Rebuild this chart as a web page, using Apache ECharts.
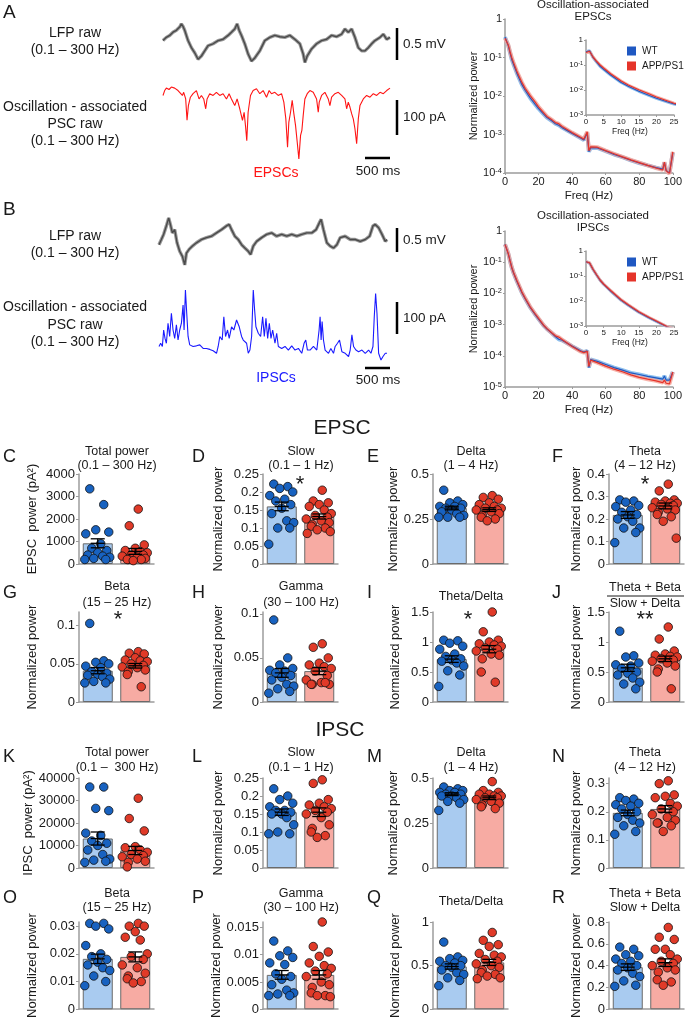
<!DOCTYPE html>
<html>
<head>
<meta charset="utf-8">
<script src="https://cdn.jsdelivr.net/npm/echarts@6.0.0/dist/echarts.min.js"></script>
<style>
html, body { margin: 0; padding: 0; background: #fff; }
#chart { width: 685px; height: 1020px; }
</style>
</head>
<body>
<div id="chart"></div>
<script>
const FONT = '"Liberation Sans", Arial, sans-serif';
const INK = '#1a1a1a';

/* ---------- A / B : raw traces (time in ms) ---------- */
const lfpA_t = [0,67,133,200,267,333,367,400,433,500,567,633,700,767,833,900,1000,1100,1200,1300,1367,1433,1480,1520,1567,1633,1700,1767,1833,1933,2033,2133,2233,2333,2433,2533,2633,2733,2800,2833,2880,2967,3067,3167,3267,3367,3467,3567,3633,3700,3767,3833,3900,3967,4033,4100,4167,4233,4333,4400,4467,4533];
const lfpA_v = [0.16,0.21,0.24,0.29,0.32,0.37,0.42,0.38,0.32,0.16,0.05,-0.03,-0.13,-0.08,0,0.08,0.11,0.16,0.18,0.24,0.29,0.34,0.42,0.32,0.24,0.11,-0.05,-0.16,-0.11,0,0.16,0.21,0.24,0.22,0.21,0.24,0.18,0.11,-0.05,-0.18,-0.08,0.03,0.11,0.16,0.18,0.24,0.22,0.26,0.34,0.29,0.34,0.21,0.05,0,0,0.05,0.11,0.16,0.21,0.26,0.18,0.21];
const epscTrace = [[0,-19],[33,-5],[67,2],[120,-2],[167,5],[233,2],[300,-5],[333,0],[387,-19],[413,-10],[453,-29],[480,-90],[507,-48],[547,-24],[600,-14],[667,-5],[720,-29],[767,-19],[813,-29],[853,-57],[880,-29],[933,-14],[1000,-19],[1067,-10],[1133,-19],[1200,-14],[1267,-29],[1320,-14],[1367,-29],[1433,-48],[1480,-29],[1533,-57],[1587,-90],[1620,-67],[1647,-105],[1673,-148],[1700,-67],[1747,-19],[1800,-5],[1867,0],[1933,-14],[2000,-5],[2067,-24],[2120,-5],[2167,-14],[2233,-10],[2300,-19],[2367,-14],[2413,-38],[2453,-86],[2487,-167],[2513,-95],[2547,-67],[2580,-33],[2613,-71],[2647,-105],[2680,-152],[2713,-200],[2747,-133],[2773,-119],[2800,-76],[2833,-29],[2880,-14],[2933,-5],[3000,-10],[3067,-29],[3100,-67],[3120,-38],[3167,-19],[3233,-10],[3300,-29],[3333,-48],[3367,-24],[3433,-14],[3500,-10],[3567,-19],[3633,-29],[3667,-57],[3700,-38],[3733,-52],[3767,-71],[3800,-86],[3833,-114],[3867,-157],[3900,-86],[3933,-48],[4000,-29],[4067,-19],[4133,-24],[4200,-14],[4267,-19],[4333,-10],[4400,-14],[4467,-5],[4533,2]];
const lfpB_t = [0,47,93,147,193,227,267,313,360,413,467,513,547,600,667,747,847,947,1047,1147,1247,1347,1400,1447,1513,1580,1647,1713,1780,1827,1880,1947,2047,2147,2247,2347,2447,2547,2647,2747,2847,2947,3047,3133,3200,3233,3280,3347,3413,3480,3547,3613,3713,3813,3913,4013,4113,4200,4267,4313,4380,4447,4513,4547];
const lfpB_v = [-0.11,0,0.11,0.29,0.46,0.32,0.14,0.21,-0.07,-0.25,-0.36,-0.54,-0.29,-0.21,-0.14,-0.07,0,0.04,0.07,0.14,0.21,0.29,0.32,0.21,0.07,0,-0.11,-0.18,-0.25,-0.32,-0.14,-0.04,0.04,0.11,0.14,0.07,0.11,0.07,0.11,0.07,0.11,0.14,0.14,0.21,0.36,0.43,0.21,-0.07,-0.14,-0.18,-0.11,0.04,0.07,0,0,-0.04,0,0.07,0.29,0.32,0.25,0.11,-0.04,0];
const ipscB_t = [0,33,67,93,120,147,180,213,247,280,313,347,380,413,447,480,500,527,553,580,613,680,747,813,880,947,1013,1080,1147,1180,1213,1260,1293,1327,1367,1400,1447,1493,1547,1600,1647,1680,1747,1780,1813,1847,1880,1907,1933,1980,2027,2067,2100,2133,2167,2200,2233,2267,2313,2347,2380,2447,2513,2580,2647,2713,2780,2847,2893,2927,2960,3013,3080,3147,3193,3213,3233,3253,3280,3313,3380,3427,3480,3513,3560,3600,3647,3713,3780,3813,3847,3880,3927,3980,4047,4113,4180,4227,4267,4293,4320,4347,4380,4427,4467,4513,4547];
const ipscB_v = [21,31,21,72,46,31,93,52,124,72,46,88,41,72,93,149,72,196,124,52,26,21,23,26,15,15,12,8,0,21,52,41,113,52,72,46,82,72,103,82,52,41,31,0,10,52,196,134,82,62,52,113,52,108,46,93,46,72,31,62,21,15,21,10,23,10,15,0,31,41,10,10,21,10,72,113,41,98,41,10,0,15,0,21,31,41,5,0,-10,10,57,21,10,5,10,0,10,0,21,113,185,124,0,-21,-10,0,0];

/* ---------- power spectra ---------- */
const freq = [0,1,2,3,4,5,7,10,12,15,18,20,23,25,28,30,32,33,34,35,40,45,47,48,49,50,51,52,55,60,65,70,75,80,85,90,94,95,96,98,99,100];
const specEpscWT = [0.339,0.372,0.200,0.132,0.0891,0.0676,0.0398,0.0200,0.0141,0.00891,0.00603,0.00468,0.00339,0.00275,0.00224,0.00191,0.00174,0.00182,0.00151,0.00138,0.00107,0.000813,0.000724,0.000676,0.00110,0.000355,0.000447,0.000501,0.000447,0.000372,0.000302,0.000257,0.000214,0.000182,0.000158,0.000138,0.000126,0.000186,0.000117,0.000100,0.000105,0.000339];
const specEpscAPP = [0.316,0.355,0.209,0.141,0.100,0.0759,0.0447,0.0229,0.0158,0.0102,0.00692,0.00525,0.00372,0.00295,0.00240,0.00204,0.00191,0.00200,0.00162,0.00145,0.00112,0.000851,0.000759,0.000724,0.00117,0.000380,0.000479,0.000525,0.000468,0.000380,0.000316,0.000263,0.000219,0.000186,0.000158,0.000135,0.000120,0.000191,0.000115,0.0000955,0.000105,0.000355];
const specIpscWT = [0.372,0.331,0.182,0.110,0.0676,0.0468,0.0251,0.0107,0.00676,0.00355,0.00209,0.00151,0.000933,0.000724,0.000525,0.000417,0.000339,0.000355,0.000316,0.000295,0.000204,0.000145,0.000132,0.000126,0.000145,0.0000417,0.0000759,0.0000759,0.0000661,0.0000525,0.0000417,0.0000347,0.0000282,0.0000251,0.0000219,0.0000195,0.0000178,0.0000224,0.0000166,0.0000166,0.0000178,0.0000302];
const specIpscAPP = [0.372,0.339,0.186,0.112,0.0692,0.0479,0.0263,0.0112,0.00708,0.00372,0.00219,0.00158,0.000955,0.000741,0.000537,0.000437,0.000398,0.000417,0.000331,0.000295,0.000200,0.000138,0.000126,0.000120,0.000138,0.0000457,0.0000724,0.0000724,0.0000603,0.0000468,0.0000372,0.0000309,0.0000245,0.0000204,0.0000178,0.0000158,0.0000138,0.0000166,0.0000132,0.0000126,0.0000141,0.0000302];

/* ---------- band power, EPSC ---------- */
const groups = ['WT', 'APP/PS1'];
const epscTotalWT = [3340,2640,1520,1420,1340,900,700,600,500,400,350,300,250,200,200];
const epscTotalAPP = [2440,1700,850,700,600,550,500,400,400,350,300,250,200,200,200,150];
const epscTotalMean = [920, 560], epscTotalSem = [200, 130];
const epscSlowWT = [0.222,0.215,0.21,0.2,0.19,0.18,0.175,0.165,0.155,0.14,0.12,0.115,0.1,0.1,0.055];
const epscSlowAPP = [0.205,0.175,0.17,0.165,0.16,0.15,0.14,0.135,0.13,0.125,0.12,0.115,0.11,0.105,0.1,0.095,0.09,0.085];
const epscSlowMean = [0.16, 0.132], epscSlowSem = [0.012, 0.007];
const epscDeltaWT = [0.41,0.35,0.34,0.33,0.32,0.32,0.31,0.31,0.30,0.29,0.28,0.27,0.26,0.26,0.26];
const epscDeltaAPP = [0.38,0.37,0.36,0.34,0.33,0.32,0.31,0.31,0.30,0.30,0.29,0.28,0.27,0.26,0.25,0.24];
const epscDeltaMean = [0.311, 0.302], epscDeltaSem = [0.01, 0.01];
const epscThetaWT = [0.285,0.28,0.275,0.26,0.255,0.24,0.23,0.22,0.21,0.2,0.19,0.16,0.16,0.14,0.095];
const epscThetaAPP = [0.355,0.325,0.285,0.28,0.275,0.27,0.27,0.265,0.26,0.25,0.245,0.24,0.23,0.22,0.21,0.19,0.115];
const epscThetaMean = [0.218, 0.258], epscThetaSem = [0.015, 0.013];
const epscBetaWT = [0.103,0.054,0.052,0.05,0.047,0.045,0.04,0.038,0.036,0.035,0.033,0.03,0.027,0.025,0.025];
const epscBetaAPP = [0.066,0.064,0.063,0.058,0.055,0.054,0.053,0.05,0.048,0.046,0.045,0.042,0.04,0.036,0.02];
const epscBetaMean = [0.041, 0.0475], epscBetaSem = [0.004, 0.003];
const epscGammaWT = [0.093,0.05,0.042,0.038,0.036,0.035,0.033,0.03,0.028,0.025,0.02,0.018,0.015,0.012,0.01];
const epscGammaAPP = [0.066,0.062,0.05,0.044,0.042,0.04,0.038,0.035,0.03,0.025,0.022,0.02,0.02,0.02,0.022];
const epscGammaMean = [0.033, 0.035], epscGammaSem = [0.005, 0.004];
const epscTDWT = [1.03,1.02,0.98,0.93,0.88,0.8,0.76,0.72,0.7,0.68,0.65,0.6,0.52,0.45,0.26];
const epscTDAPP = [1.5,1.17,1.03,1.0,0.97,0.95,0.93,0.9,0.88,0.85,0.8,0.78,0.72,0.5,0.33];
const epscTDMean = [0.715, 0.88], epscTDSem = [0.055, 0.06];
const epscRatioWT = [1.18,0.77,0.75,0.65,0.62,0.6,0.56,0.5,0.48,0.45,0.4,0.33,0.3,0.22];
const epscRatioAPP = [1.25,1.05,0.85,0.8,0.78,0.76,0.75,0.72,0.7,0.68,0.65,0.6,0.55,0.5,0.22];
const epscRatioMean = [0.57, 0.72], epscRatioSem = [0.06, 0.045];

/* ---------- band power, IPSC ---------- */
const ipscTotalWT = [36000,36000,26500,25500,15500,14500,12000,11000,10000,8000,6000,4000,3500,3000,2500];
const ipscTotalAPP = [31000,22000,16500,9500,9000,8000,7000,6000,5500,5000,4000,3000,2500,500];
const ipscTotalMean = [13100, 7800], ipscTotalSem = [2900, 1800];
const ipscSlowWT = [0.22,0.2,0.19,0.18,0.17,0.16,0.16,0.155,0.15,0.15,0.14,0.12,0.1,0.095,0.095];
const ipscSlowAPP = [0.245,0.235,0.19,0.18,0.175,0.17,0.165,0.16,0.155,0.15,0.14,0.12,0.11,0.1,0.09,0.085];
const ipscSlowMean = [0.155, 0.155], ipscSlowSem = [0.009, 0.012];
const ipscDeltaWT = [0.45,0.44,0.43,0.43,0.42,0.42,0.41,0.41,0.40,0.40,0.39,0.38,0.37,0.36,0.32];
const ipscDeltaAPP = [0.48,0.43,0.42,0.41,0.41,0.40,0.40,0.39,0.39,0.38,0.37,0.36,0.35,0.34,0.33];
const ipscDeltaMean = [0.41, 0.39], ipscDeltaSem = [0.008, 0.01];
const ipscThetaWT = [0.25,0.245,0.24,0.23,0.225,0.22,0.21,0.2,0.19,0.18,0.17,0.16,0.15,0.13,0.12];
const ipscThetaAPP = [0.31,0.3,0.26,0.255,0.25,0.23,0.22,0.21,0.2,0.19,0.18,0.17,0.16,0.16,0.15,0.13];
const ipscThetaMean = [0.196, 0.21], ipscThetaSem = [0.01, 0.012];
const ipscBetaWT = [0.031,0.031,0.03,0.029,0.023,0.02,0.019,0.018,0.017,0.016,0.015,0.014,0.012,0.01,0.0085];
const ipscBetaAPP = [0.031,0.030,0.030,0.028,0.026,0.025,0.02,0.019,0.018,0.016,0.015,0.013,0.012,0.011,0.01,0.0095];
const ipscBetaMean = [0.0182, 0.0189], ipscBetaSem = [0.0017, 0.0018];
const ipscGammaWT = [0.0125,0.0107,0.0098,0.0095,0.0085,0.0082,0.0065,0.006,0.0055,0.0045,0.0035,0.003,0.0028,0.0025,0.0025];
const ipscGammaAPP = [0.016,0.0115,0.0105,0.0097,0.0085,0.008,0.0075,0.007,0.0065,0.006,0.005,0.0045,0.004,0.003,0.0025,0.0025,0.0023];
const ipscGammaMean = [0.0063, 0.0063], ipscGammaSem = [0.0008, 0.0008];
const ipscTDWT = [0.77,0.6,0.58,0.56,0.55,0.53,0.5,0.5,0.48,0.45,0.42,0.4,0.36,0.33,0.27];
const ipscTDAPP = [0.88,0.79,0.74,0.72,0.64,0.62,0.6,0.57,0.55,0.52,0.5,0.48,0.45,0.42,0.4,0.38,0.36,0.35];
const ipscTDMean = [0.49, 0.537], ipscTDSem = [0.03, 0.035];
const ipscRatioWT = [0.57,0.55,0.5,0.49,0.46,0.44,0.42,0.4,0.38,0.36,0.33,0.3,0.26,0.22,0.21];
const ipscRatioAPP = [0.75,0.66,0.64,0.55,0.55,0.5,0.46,0.44,0.42,0.4,0.38,0.36,0.34,0.27,0.25,0.22];
const ipscRatioMean = [0.386, 0.427], ipscRatioSem = [0.03, 0.035];

/* dot spread inside a bar, px */
const jitter = [-8, 6, -2, 11, -12, 3, -6, 9, 0, -10, 5, 12, -4, 8, -13, 2, 10, -7];

const grid = [], xAxis = [], yAxis = [], series = [], graphic = [], legend = [];

function zip(a, b) {
  const out = [];
  for (let i = 0; i < Math.min(a.length, b.length); i++) out.push([a[i], b[i]]);
  return out;
}
function text(x, y, str, size, opt) {
  graphic.push({ type: 'text', x: x, y: y, silent: true, z: 10,
    style: Object.assign({ text: str, fill: INK, font: size + 'px ' + FONT,
      textAlign: 'center', textVerticalAlign: 'middle', align: 'center', verticalAlign: 'middle' }, opt || {}) });
}
function line(x1, y1, x2, y2, w, c) {
  graphic.push({ type: 'line', silent: true, z: 10, shape: { x1: x1, y1: y1, x2: x2, y2: y2 },
    style: { stroke: c || '#000', lineWidth: w } });
}

/* raw traces */
function trace(box, data, color, width, yr, xmax, under) {
  const gi = grid.length;
  grid.push({ left: box[0], top: box[1], width: box[2], height: box[3] });
  xAxis.push({ gridIndex: gi, type: 'value', min: 0, max: xmax, show: false });
  yAxis.push({ gridIndex: gi, type: 'value', min: yr[0], max: yr[1], show: false });
  if (under) series.push({ type: 'line', xAxisIndex: gi, yAxisIndex: gi, data: data, showSymbol: false,
    silent: true, lineStyle: { color: under, width: width + 2 } });
  series.push({ type: 'line', xAxisIndex: gi, yAxisIndex: gi, data: data, showSymbol: false,
    silent: true, lineStyle: { color: color, width: width } });
}
trace([163, 20, 227, 45], zip(lfpA_t, lfpA_v), '#4a4a4a', 1.4, [-0.22, 0.48], 4533, '#9a9a9a');
trace([163, 86, 227, 76], epscTrace, '#ff1414', 1.1, [-209, 8], 4533);
trace([159, 216, 228, 51], zip(lfpB_t, lfpB_v), '#4a4a4a', 1.4, [-0.585, 0.5], 4547, '#9a9a9a');
trace([159, 288, 228, 74], zip(ipscB_t, ipscB_v), '#1a1aff', 1.1, [-27, 202], 4547);

/* spectra */
const axLine = { show: true, lineStyle: { color: '#9c9c9c', width: 1.5 } };
function logLabel(v) {
  if (v >= 0.99) return '1';
  return '10{s|' + Math.round(Math.log10(v)) + '}';
}
function specAxes(box, xmax, xint, ymin, fs, names) {
  const gi = grid.length;
  grid.push({ left: box[0], top: box[1], width: box[2], height: box[3] });
  xAxis.push({ gridIndex: gi, type: 'value', min: 0, max: xmax, interval: xint,
    name: 'Freq (Hz)', nameLocation: 'middle', nameGap: names.xg,
    nameTextStyle: { fontSize: fs + 0.5, color: INK, fontFamily: FONT },
    axisLine: axLine, axisTick: { length: 2, lineStyle: { color: '#9c9c9c' } },
    axisLabel: { fontSize: fs, color: INK, fontFamily: FONT, margin: 3 }, splitLine: { show: false } });
  yAxis.push({ gridIndex: gi, type: 'log', logBase: 10, min: ymin, max: 1,
    name: names.y || '', nameLocation: 'middle', nameGap: names.yg,
    nameTextStyle: { fontSize: fs, color: INK, fontFamily: FONT },
    axisLine: axLine, axisTick: { length: 2, lineStyle: { color: '#9c9c9c' } },
    axisLabel: { fontSize: fs, color: INK, fontFamily: FONT, margin: 3, formatter: logLabel,
      rich: { s: { fontSize: fs * 0.68, verticalAlign: 'top', color: INK, fontFamily: FONT } } },
    splitLine: { show: false } });
  return gi;
}
function curves(gi, wt, app, bw) {
  const base = { type: 'line', xAxisIndex: gi, yAxisIndex: gi, showSymbol: false, silent: true };
  series.push(Object.assign({ name: 'WT band', data: zip(freq, wt), lineStyle: { color: '#8cc0ef', width: bw } }, base));
  series.push(Object.assign({ name: 'APP band', data: zip(freq, app), lineStyle: { color: '#f6a095', width: bw, opacity: 0.8 } }, base));
  series.push(Object.assign({ name: 'WT', data: zip(freq, wt), itemStyle: { color: '#1f58c2' }, lineStyle: { color: '#1f58c2', width: 1.2 } }, base));
  series.push(Object.assign({ name: 'APP/PS1', data: zip(freq, app), itemStyle: { color: '#e5342a' }, lineStyle: { color: '#e5342a', width: 1.2 } }, base));
}
function spectrum(top, h, ymin, wt, app, insetTop, title) {
  const g1 = specAxes([505, top, 171, h], 100, 20, ymin, 11, { xg: 17, y: 'Normalized power', yg: 22 });
  curves(g1, wt, app, 4);
  const g2 = specAxes([586, insetTop, 88, 75], 25, 5, 0.001, 8, { xg: 10 });
  curves(g2, wt, app, 3);
  legend.push({ left: 622, top: insetTop + 1, orient: 'vertical', icon: 'rect', itemWidth: 9, itemHeight: 9,
    itemGap: 5, selectedMode: false, data: ['WT', 'APP/PS1'],
    textStyle: { fontSize: 10, color: INK, fontFamily: FONT, padding: [0, 0, 0, 1] } });
  text(593, title[0], 'Oscillation-associated', 11.5);
  text(593, title[0] + 12, title[1], 11.5);
}
spectrum(19, 154, 0.0001, specEpscWT, specEpscAPP, 40, [5, 'EPSCs']);
spectrum(231, 156, 0.00001, specIpscWT, specIpscAPP, 251, [216, 'IPSCs']);

/* trace labels and scale bars */
[[0, 'A', 'EPSCs', '#ff1414'], [1, 'B', 'IPSCs', '#1a1aff']].forEach(function (r) {
  const dy = r[0] ? 203 : 0;
  text(3, 13 + dy - (r[0] ? 6 : 0), r[1], 19, { textAlign: 'left', align: 'left' });
  text(75, 33 + dy, 'LFP raw', 14);
  text(75, 50 + dy, '(0.1 – 300 Hz)', 14);
  text(75, 107 + dy - (r[0] ? 3 : 0), 'Oscillation - associated', 14);
  text(75, 124 + dy - (r[0] ? 2 : 0), 'PSC raw', 14);
  text(75, 141 + dy - (r[0] ? 2 : 0), '(0.1 – 300 Hz)', 14);
  text(276, r[0] ? 378 : 173, r[2], 14, { fill: r[3] });
});
line(397, 28, 397, 60, 2.5); text(403, 44, '0.5 mV', 13.5, { textAlign: 'left', align: 'left' });
line(397, 100, 397, 135, 2.5); text(403, 117, '100 pA', 13.5, { textAlign: 'left', align: 'left' });
line(365, 158, 390, 158, 2.5); text(378, 171, '500 ms', 13.5);
line(397, 228, 397, 252, 2.5); text(403, 240, '0.5 mV', 13.5, { textAlign: 'left', align: 'left' });
line(397, 302, 397, 334, 2.5); text(403, 318, '100 pA', 13.5, { textAlign: 'left', align: 'left' });
line(365, 368, 390, 368, 2.5); text(378, 380, '500 ms', 13.5);

/* bar panels */
const COLS = [79, 263, 433, 609];
const ROWS = [474, 612, 778, 922];
const ROWH = [90, 90, 90, 88];
const LETTER_X = [3, 192, 367, 552];
const LETTER_Y = [457, 593, 757, 898];
const TITLE_Y = [[452, 466], [587, 603], [753, 768], [894, 908]];
const NAME_GAP = [40, 38, 31, 25];

const panels = [
  { id: 'C', c: 0, r: 0, title: ['Total power', '(0.1 – 300 Hz)'], wt: epscTotalWT, app: epscTotalAPP, mean: epscTotalMean, sem: epscTotalSem, max: 4000, ticks: [0, 1000, 2000, 3000, 4000], yname: 'EPSC  power (pA²)' },
  { id: 'D', c: 1, r: 0, title: ['Slow', '(0.1 – 1 Hz)'], wt: epscSlowWT, app: epscSlowAPP, mean: epscSlowMean, sem: epscSlowSem, max: 0.25, ticks: [0, 0.05, 0.1, 0.15, 0.2, 0.25], star: [300, 480, '*'] },
  { id: 'E', c: 2, r: 0, title: ['Delta', '(1 – 4 Hz)'], wt: epscDeltaWT, app: epscDeltaAPP, mean: epscDeltaMean, sem: epscDeltaSem, max: 0.5, ticks: [0, 0.25, 0.5] },
  { id: 'F', c: 3, r: 0, title: ['Theta', '(4 – 12 Hz)'], wt: epscThetaWT, app: epscThetaAPP, mean: epscThetaMean, sem: epscThetaSem, max: 0.4, ticks: [0, 0.1, 0.2, 0.3, 0.4], star: [645, 480, '*'] },
  { id: 'G', c: 0, r: 1, title: ['Beta', '(15 – 25 Hz)'], wt: epscBetaWT, app: epscBetaAPP, mean: epscBetaMean, sem: epscBetaSem, max: 0.118, ticks: [0, 0.05, 0.1], star: [118, 615, '*'] },
  { id: 'H', c: 1, r: 1, title: ['Gamma', '(30 – 100 Hz)'], wt: epscGammaWT, app: epscGammaAPP, mean: epscGammaMean, sem: epscGammaSem, max: 0.102, ticks: [0, 0.05, 0.1] },
  { id: 'I', c: 2, r: 1, title: ['Theta/Delta'], wt: epscTDWT, app: epscTDAPP, mean: epscTDMean, sem: epscTDSem, max: 1.5, ticks: [0, 0.5, 1, 1.5], star: [468, 615, '*'] },
  { id: 'J', c: 3, r: 1, title: ['Theta + Beta', 'Slow + Delta'], frac: true, wt: epscRatioWT, app: epscRatioAPP, mean: epscRatioMean, sem: epscRatioSem, max: 1.5, ticks: [0, 0.5, 1, 1.5], star: [645, 615, '**'] },
  { id: 'K', c: 0, r: 2, title: ['Total power', '(0.1 –  300 Hz)'], wt: ipscTotalWT, app: ipscTotalAPP, mean: ipscTotalMean, sem: ipscTotalSem, max: 40000, ticks: [0, 10000, 20000, 30000, 40000], yname: 'IPSC  power (pA²)' },
  { id: 'L', c: 1, r: 2, title: ['Slow', '(0.1 – 1 Hz)'], wt: ipscSlowWT, app: ipscSlowAPP, mean: ipscSlowMean, sem: ipscSlowSem, max: 0.25, ticks: [0, 0.05, 0.1, 0.15, 0.2, 0.25] },
  { id: 'M', c: 2, r: 2, title: ['Delta', '(1 – 4 Hz)'], wt: ipscDeltaWT, app: ipscDeltaAPP, mean: ipscDeltaMean, sem: ipscDeltaSem, max: 0.5, ticks: [0, 0.25, 0.5] },
  { id: 'N', c: 3, r: 2, title: ['Theta', '(4 – 12 Hz)'], wt: ipscThetaWT, app: ipscThetaAPP, mean: ipscThetaMean, sem: ipscThetaSem, max: 0.32, ticks: [0, 0.1, 0.2, 0.3] },
  { id: 'O', c: 0, r: 3, title: ['Beta', '(15 – 25 Hz)'], wt: ipscBetaWT, app: ipscBetaAPP, mean: ipscBetaMean, sem: ipscBetaSem, max: 0.0315, ticks: [0, 0.01, 0.02, 0.03] },
  { id: 'P', c: 1, r: 3, title: ['Gamma', '(30 – 100 Hz)'], wt: ipscGammaWT, app: ipscGammaAPP, mean: ipscGammaMean, sem: ipscGammaSem, max: 0.016, ticks: [0, 0.005, 0.01, 0.015] },
  { id: 'Q', c: 2, r: 3, title: ['Theta/Delta'], wt: ipscTDWT, app: ipscTDAPP, mean: ipscTDMean, sem: ipscTDSem, max: 1, ticks: [0, 0.5, 1] },
  { id: 'R', c: 3, r: 3, title: ['Theta + Beta', 'Slow + Delta'], wt: ipscRatioWT, app: ipscRatioAPP, mean: ipscRatioMean, sem: ipscRatioSem, max: 0.8, ticks: [0, 0.2, 0.4, 0.6, 0.8] }
];

function errorBar(params, api) {
  const x = api.coord([api.value(0), api.value(1)])[0];
  const lo = api.coord([api.value(0), api.value(1)])[1];
  const hi = api.coord([api.value(0), api.value(2)])[1];
  const mid = api.coord([api.value(0), api.value(3)])[1];
  const s = { stroke: '#000', lineWidth: 1.3 };
  return { type: 'group', children: [
    { type: 'line', shape: { x1: x, y1: lo, x2: x, y2: hi }, style: s },
    { type: 'line', shape: { x1: x - 7, y1: lo, x2: x + 7, y2: lo }, style: s },
    { type: 'line', shape: { x1: x - 7, y1: hi, x2: x + 7, y2: hi }, style: s },
    { type: 'line', shape: { x1: x - 7, y1: mid, x2: x + 7, y2: mid }, style: s }
  ] };
}

panels.forEach(function (p) {
  const gi = grid.length;
  const left = COLS[p.c], top = ROWS[p.r], h = ROWH[p.r];
  grid.push({ left: left, top: top, width: 75, height: h });
  xAxis.push({ gridIndex: gi, type: 'category', data: groups, axisLine: axLine,
    axisTick: { show: false }, axisLabel: { show: false } });
  yAxis.push({ gridIndex: gi, type: 'value', min: 0, max: p.max,
    name: p.yname || 'Normalized power', nameLocation: 'middle', nameGap: NAME_GAP[p.c],
    nameTextStyle: { fontSize: 13, color: INK, fontFamily: FONT },
    axisLine: axLine, axisTick: { show: true, length: 3, customValues: p.ticks, lineStyle: { color: '#9c9c9c' } },
    axisLabel: { customValues: p.ticks, formatter: function (v) { return String(v); },
      fontSize: 13, color: INK, fontFamily: FONT, margin: 4 },
    splitLine: { show: false } });
  series.push({ type: 'bar', xAxisIndex: gi, yAxisIndex: gi, barWidth: 30, silent: true, z: 2,
    itemStyle: { borderColor: '#6a6a6a', borderWidth: 1 },
    data: [{ value: p.mean[0], itemStyle: { color: '#a9cbf0' } }, { value: p.mean[1], itemStyle: { color: '#f7aba3' } }] });
  [p.wt, p.app].forEach(function (vals, k) {
    series.push({ type: 'scatter', xAxisIndex: gi, yAxisIndex: gi, symbolSize: 8.5, clip: false, silent: true, z: 3,
      itemStyle: { color: k ? '#e03a28' : '#1862c0', borderColor: '#111', borderWidth: 0.8, opacity: 1 },
      data: vals.map(function (v, i) { return { value: [k, v], symbolOffset: [jitter[(i + k * 5) % jitter.length], 0] }; }) });
  });
  series.push({ type: 'custom', xAxisIndex: gi, yAxisIndex: gi, silent: true, z: 4, renderItem: errorBar,
    data: [0, 1].map(function (k) { return [k, p.mean[k] - p.sem[k], p.mean[k] + p.sem[k], p.mean[k]]; }) });

  text(LETTER_X[p.c], LETTER_Y[p.r], p.id, 18, { textAlign: 'left', align: 'left' });
  const cx = p.c === 3 ? 645 : left + 38;
  if (p.title.length === 1) {
    text(cx, p.r === 1 ? 597 : 902, p.title[0], 12.5);
  } else if (p.frac) {
    text(cx, 588, p.title[0], 12.5);
    line(607, 596, 684, 596, 1, INK);
    text(cx, 604, p.title[1], 12.5);
  } else {
    text(cx, TITLE_Y[p.r][0], p.title[0], 12.5);
    text(cx, TITLE_Y[p.r][1], p.title[1], 12.5);
  }
  if (p.star) text(p.star[0], p.star[1] + 5, p.star[2], 22);
});

text(342, 428, 'EPSC', 21);
text(340, 730, 'IPSC', 21);

const chart = echarts.init(document.getElementById('chart'));
chart.setOption({
  animation: false,
  backgroundColor: '#fff',
  textStyle: { fontFamily: FONT },
  grid: grid, xAxis: xAxis, yAxis: yAxis, series: series, legend: legend, graphic: graphic
});
</script>
</body>
</html>
